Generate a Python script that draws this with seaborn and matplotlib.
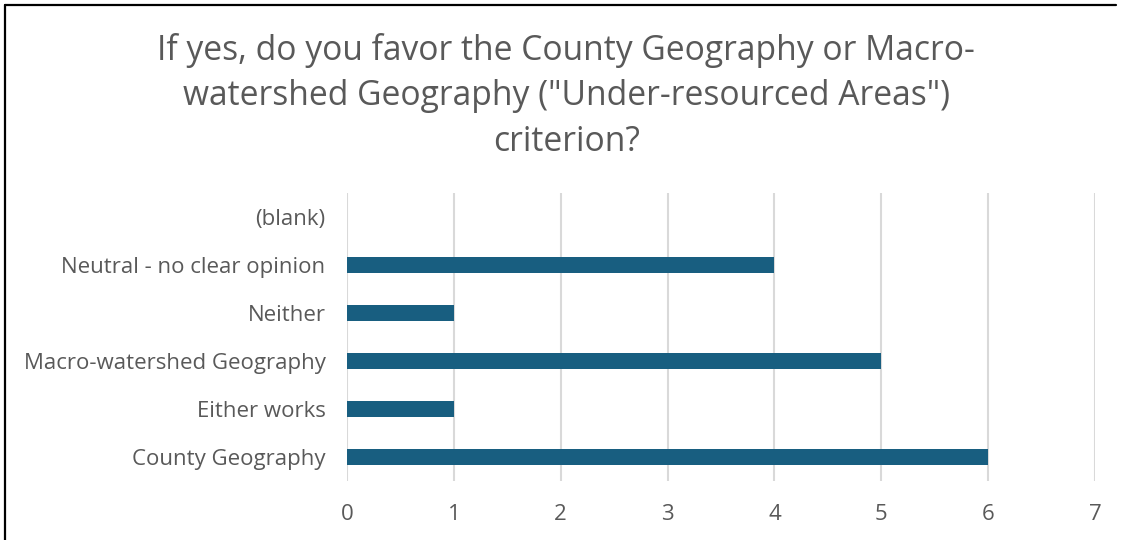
import matplotlib
matplotlib.use("Agg")
import matplotlib.pyplot as plt
from matplotlib.lines import Line2D
import seaborn as sns
import pandas as pd

categories = [
    "(blank)",
    "Neutral - no clear opinion",
    "Neither",
    "Macro-watershed Geography",
    "Either works",
    "County Geography",
]
counts = [0, 4, 1, 5, 1, 6]
x_ticks = [0, 1, 2, 3, 4, 5, 6, 7]
title = ('If yes, do you favor the County Geography or Macro-\n'
         'watershed Geography ("Under-resourced Areas")\n'
         'criterion?')

sns.set_theme(style="white")
plt.rcParams["font.family"] = ["Open Sans", "DejaVu Sans"]

text_color = "#595959"
bar_color = "#185E80"
grid_color = "#D9D9D9"

df = pd.DataFrame({"category": categories, "count": counts})

fig = plt.figure(figsize=(11.21, 5.40), dpi=100)
ax = fig.add_axes([0.3095, 0.1093, 0.6673, 0.5333])

sns.barplot(data=df, x="count", y="category", order=categories,
            color=bar_color, saturation=1, width=0.33, linewidth=0, ax=ax)

ax.set_xlim(0, 7)
ax.set_xticks(x_ticks)
ax.set_xticklabels([str(t) for t in x_ticks])
ax.xaxis.grid(True, color=grid_color, linewidth=1.5)
ax.set_axisbelow(True)
for s in ax.spines.values():
    s.set_visible(False)
ax.tick_params(axis="both", length=0, labelsize=16, labelcolor=text_color)
ax.tick_params(axis="x", pad=16.5)
ax.tick_params(axis="y", pad=15.5)
ax.set_xlabel("")
ax.set_ylabel("")

fig.text(0.505, 0.939, title, ha="center", va="top", fontsize=24.2,
         color=text_color, linespacing=1.44)

# outer frame: top and left edges
fig.add_artist(Line2D([5 / 1121, 1116 / 1121], [1 - 5 / 540, 1 - 5 / 540],
                      transform=fig.transFigure, color="black", linewidth=1.6))
fig.add_artist(Line2D([5 / 1121, 5 / 1121], [0, 1 - 5 / 540],
                      transform=fig.transFigure, color="black", linewidth=1.6))

fig.savefig("out.png", dpi=100, facecolor="white")
